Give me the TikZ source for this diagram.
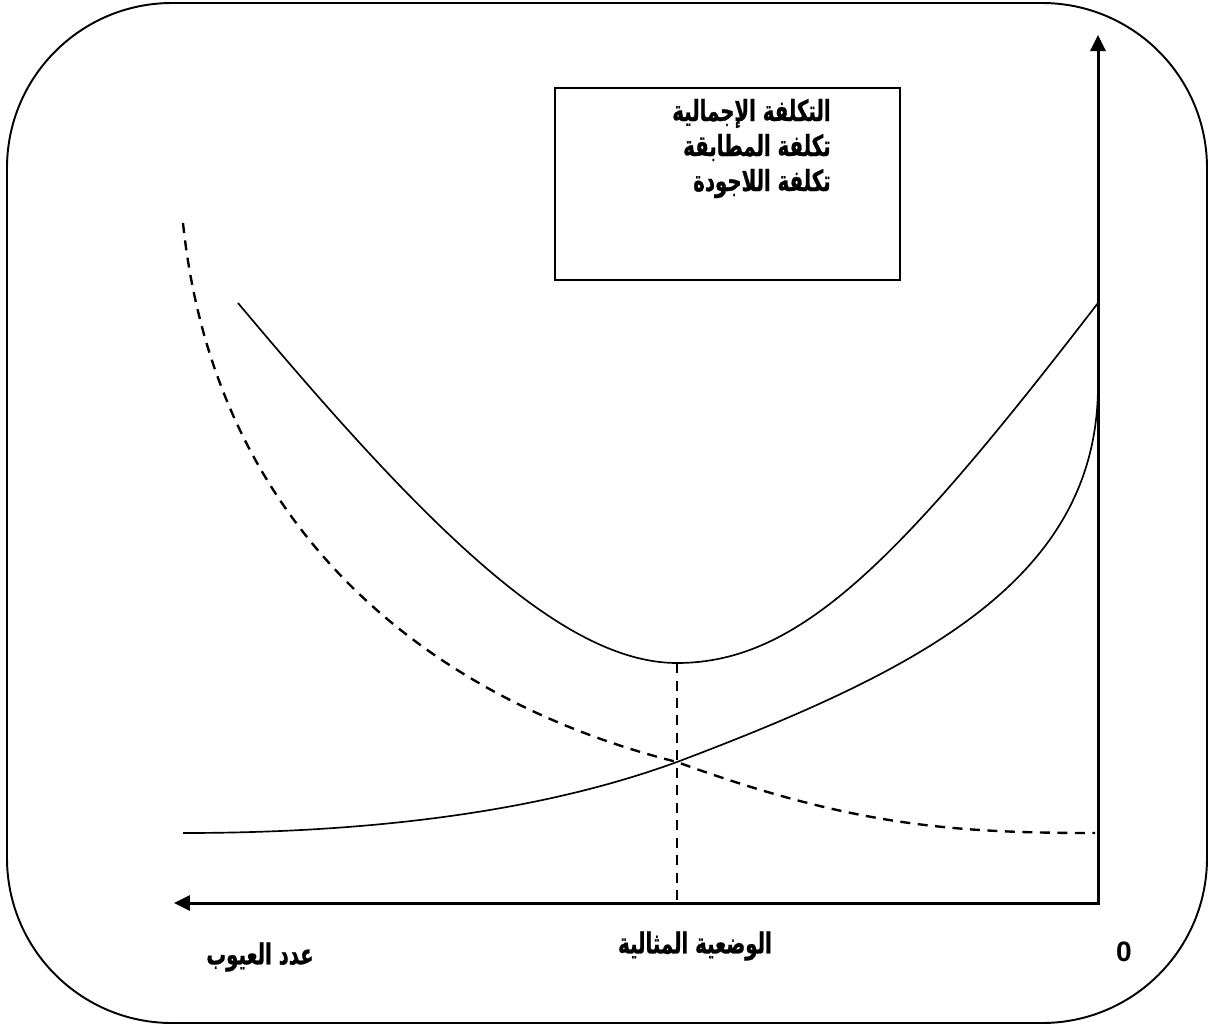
\documentclass[tikz,border=0pt]{standalone}
\usepackage{fontspec}
\setmainfont{Liberation Sans}
\newfontfamily\arabicfont[Script=Arabic,FakeStretch=0.68,FakeBold=0.8]{DejaVu Sans}
\TeXXeTstate=1
\usetikzlibrary{arrows.meta}
\begin{document}
\begin{tikzpicture}[x=0.02cm,y=-0.02cm,
  frame/.style={line width=1.1pt, rounded corners=3.3cm},
  axes/.style={line width=1.7pt, {Triangle[length=0.32cm,width=0.3cm]}-{Triangle[length=0.32cm,width=0.3cm]}},
  curve/.style={line width=0.95pt},
  dashcurve/.style={line width=1.35pt, dash pattern=on 0.2cm off 0.15cm},
  arlabel/.style={font=\arabicfont\bfseries\fontsize{16.5}{18}\selectfont, inner sep=0pt},
  numlabel/.style={font=\bfseries\fontsize{16}{18}\selectfont, inner sep=0pt},
  legendbox/.style={draw, line width=1.1pt, minimum width=6.9cm, minimum height=3.84cm, inner sep=0pt}]
\useasboundingbox (0,0) rectangle (1211,1025);

% outer rounded frame
\draw[frame] (7,3) rectangle (1207,1023);

% axes
\coordinate (O) at (1098,903);
\coordinate (ytip) at (1098,35);
\coordinate (xtip) at (174,903);
\draw[axes] (ytip) -- (O) -- (xtip);

% legend box
\node[legendbox] (legend) at (727.5,184) {};
\node[arlabel, anchor=base east] (l1) at (831,121) {\beginR التكلفة الإجمالية\endR};
\node[arlabel, anchor=base east] (l2) at (831,156) {\beginR تكلفة المطابقة\endR};
\node[arlabel, anchor=base east] (l3) at (831,191) {\beginR تكلفة اللاجودة\endR};

% key points of the curves
\coordinate (tcA) at (238,303);
\coordinate (tcMin) at (677,663);
\coordinate (tcB) at (1098,303);
\coordinate (ccA) at (183,833);
\coordinate (X) at (677,762);
\coordinate (ccB) at (1098,385);
\coordinate (ncA) at (183,223);
\coordinate (ncB) at (1095,833);
\coordinate (foot) at (677,903);

% total cost
\draw[curve] (tcA) .. controls (420,520) and (560,663) .. (tcMin)
  .. controls (800,663) and (900,560) .. (tcB);
% conformity cost
\draw[curve] (ccA) .. controls (450,833) and (600,790) .. (X)
  .. controls (920,670) and (1098,580) .. (ccB);
% non-quality cost
\draw[dashcurve] (ncA) .. controls (215,530) and (430,700) .. (X)
  .. controls (850,825) and (950,833) .. (ncB);
% optimum marker
\draw[dashcurve] (tcMin) -- (foot);

% axis labels
\node[numlabel] (zero) at (1124,952) {0};
\node[arlabel] (opt) at (695,946) {\beginR الوضعية المثالية\endR};
\node[arlabel] (defects) at (260,957) {\beginR عدد العيوب\endR};
\end{tikzpicture}
\end{document}
